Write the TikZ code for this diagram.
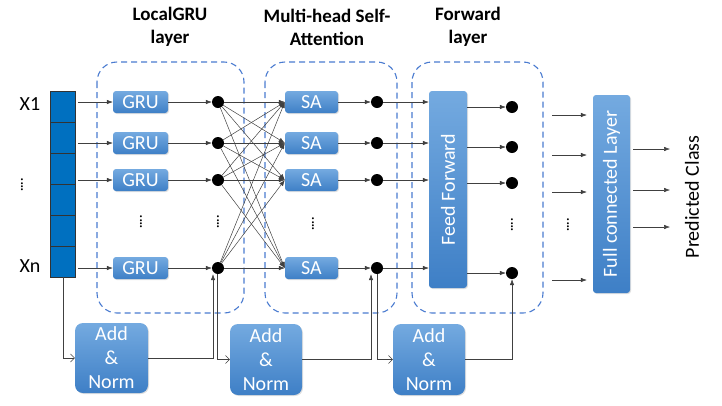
\documentclass[tikz,border=0pt]{standalone}
\usepackage{fontspec}
\setmainfont{Carlito}
\usetikzlibrary{arrows.meta}
\usetikzlibrary{shadows}
\definecolor{boxtop}{HTML}{74AAE0}
\definecolor{boxbot}{HTML}{3E7FC6}
\definecolor{vecblue}{HTML}{0070C0}
\definecolor{dashblue}{HTML}{4A7BD0}

\begin{document}
\begin{tikzpicture}[x=1pt,y=-1pt,
  font=\fontsize{20}{24}\selectfont,
  blk/.style={rounded corners=3pt,top color=boxtop,bottom color=boxbot,text=white,inner sep=0pt,
    drop shadow={opacity=0.25,shadow xshift=1pt,shadow yshift=-1pt}},
  dot/.style={circle,fill=black,inner sep=0pt,minimum size=12pt},
  cell/.style={draw=black!80,fill=vecblue,minimum width=25pt,minimum height=31pt,inner sep=0pt,line width=0.8pt},
  ln/.style={draw=black!75,line width=0.5pt},
  arr/.style={ln,-{Latex[length=6pt,width=4.5pt]}},
  oarr/.style={ln,-{Straight Barb[length=4pt,width=8pt]}},
  frame/.style={draw=dashblue,dash pattern=on 6pt off 4pt,line width=1.1pt,rounded corners=20pt},
  ttl/.style={font=\fontsize{19}{23}\selectfont\bfseries,align=center},
  vd/.style={rotate=90,inner sep=0pt,font=\fontsize{13}{13}\selectfont\bfseries}]
\useasboundingbox (0,0) rectangle (722,405);

% layer frames
\draw[frame] (97,62) rectangle (244,313);
\draw[frame] (265,62) rectangle (397,313);
\draw[frame] (412,62) rectangle (543,313);
\node[ttl] (t1) at (170,27) {LocalGRU\\layer};
\node[ttl] (t2) at (327,27) {Multi-head Self-\\Attention};
\node[ttl] (t3) at (468,27) {Forward\\layer};

% input vector
\foreach \k in {0,...,5}
  \node[cell] (c\k) at (63,106.5+31*\k) {};
\node (lx1) at (30,104) {X1};
\node (lxn) at (30,266) {Xn};
\node[vd] (vd0) at (22,185) {....};

\foreach \i/\y/\z in {1/102/107,2/143/147,3/180/183,4/268/273} {
  \coordinate (in\i) at (78,\y);
  \node[blk,minimum width=55pt,minimum height=22pt] (gru\i) at (140.5,\y) {GRU};
  \node[dot] (g\i) at (218,\y) {};
  \node[blk,minimum width=53pt,minimum height=22pt] (sa\i) at (311.5,\y) {SA};
  \node[dot] (s\i) at (377,\y) {};
  \coordinate (f\i) at (512,\z);
  \node[dot] (fd\i) at (f\i) {};
}
\node[vd] (vd1) at (141,222) {....};
\node[vd] (vd2) at (218,222) {....};
\node[vd] (vd3) at (313,224) {....};
\node[vd] (vd4) at (512,225) {....};
\node[vd] (vd5) at (568,225) {....};

\node[blk,minimum width=197pt,minimum height=38pt,rotate=90] (ff) at (448,189.5) {Feed Forward};
\node[blk,minimum width=198pt,minimum height=37pt,rotate=90] (fc) at (611.5,194) {Full connected Layer};
\node[rotate=90] (pc) at (692,197) {Predicted Class};

\foreach \i in {1,...,4} {
  \draw[arr] (in\i) -- (gru\i.west);
  \draw[arr] (gru\i) -- (g\i);
  \foreach \j in {1,...,4}
    \draw[arr] (g\i) -- (sa\j.west);
  \draw[arr] (sa\i) -- (s\i);
  \draw[arr] (s\i) -- (s\i -| ff.north);
  \draw[arr] (fd\i -| ff.south) -- (fd\i);
}
\foreach \i/\y in {1/115,2/155,3/192,4/280} {
  \coordinate (c\i) at (552,\y);
  \draw[arr,shorten >=6pt] (c\i) -- (c\i -| fc.north);
}
\foreach \i/\y in {1/149,2/190,3/227} {
  \coordinate (o\i) at (670,\y);
  \draw[arr] ([xshift=3pt]o\i -| fc.south) -- (o\i);
}

% add & norm
\node[blk,minimum width=73pt,minimum height=70pt,align=center,rounded corners=8pt] (an1) at (111.5,358) {Add\\\&\\Norm};
\node[blk,minimum width=72pt,minimum height=71pt,align=center,rounded corners=8pt] (an2) at (266,359.5) {Add\\\&\\Norm};
\node[blk,minimum width=72pt,minimum height=71pt,align=center,rounded corners=8pt] (an3) at (429,359.5) {Add\\\&\\Norm};

\draw[oarr] (c5.south) |- (an1.west);
\draw[arr] (an1.east) -| ([xshift=-5pt]g4.south);
\draw[oarr] ([xshift=-1pt]g4.south) |- (an2.west);
\draw[arr] (an2.east) -| ([xshift=-6pt]s4.south);
\draw[oarr] (s4.south) |- (an3.west);
\draw[arr] (an3.east) -| (fd4.south);
\end{tikzpicture}
\end{document}
